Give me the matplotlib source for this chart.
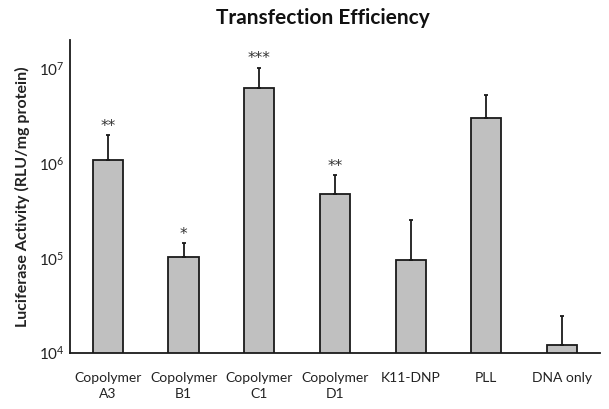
import numpy as np
import matplotlib.pyplot as plt
from matplotlib.ticker import LogLocator, NullLocator

plt.rcParams['font.family'] = ['Lato', 'DejaVu Sans']

# 各組別的數值 (從圖上估計)
labels = ['Copolymer\nA3', 'Copolymer\nB1', 'Copolymer\nC1', 'Copolymer\nD1',
          'K11-DNP', 'PLL', 'DNA only']
values = [1.09e6, 1.02e5, 6.3e6, 4.76e5, 9.6e4, 2.98e6, 1.2e4]
err_top = [1.99e6, 1.42e5, 1.02e7, 7.43e5, 2.54e5, 5.28e6, 2.45e4]
stars = ['**', '*', '***', '**', '', '', '']

upper = np.array(err_top) - np.array(values)
x = np.arange(len(labels))

fig = plt.figure(figsize=(6.09, 4.09), dpi=100)
ax = fig.add_axes([0.115, 0.138, 0.87, 0.764])

ax.bar(x, values, width=0.4, color='#c0c0c0', edgecolor='#1a1a1a', linewidth=1.3,
       yerr=[np.zeros(len(x)), upper], error_kw=dict(ecolor='#1a1a1a', elinewidth=1.3,
                                                     capsize=1.5, capthick=1.3),
       zorder=2)

for xi, top, s in zip(x, err_top, stars):
    if s:
        ax.annotate(s, (xi, top), xytext=(0, 1), textcoords='offset points',
                    ha='center', va='bottom', fontsize=11, color='#333333',
                    family='DejaVu Sans')

ax.set_yscale('log')
ax.set_ylim(1e4, 2e7)
ax.set_xlim(-0.5, 6.5)
ax.yaxis.set_major_locator(LogLocator(base=10, numticks=10))
ax.yaxis.set_minor_locator(NullLocator())
ax.set_xticks(x)
ax.set_xticklabels(labels, fontsize=10, color='#222222', linespacing=1.4)
ax.tick_params(axis='x', length=0, pad=14)
ax.tick_params(axis='y', length=0, labelsize=11, labelcolor='#222222', pad=4)

for side in ['top', 'right']:
    ax.spines[side].set_visible(False)
for side in ['left', 'bottom']:
    ax.spines[side].set_linewidth(1.3)
    ax.spines[side].set_color('#1a1a1a')

ax.set_ylabel('Luciferase Activity (RLU/mg protein)', fontsize=11.5, fontweight='bold',
              color='#222222', labelpad=6)
fig.text(0.53, 0.955, 'Transfection Efficiency', ha='center', va='center',
         fontsize=15, fontweight='bold', color='#111111')

fig.savefig('out.png', dpi=100)
